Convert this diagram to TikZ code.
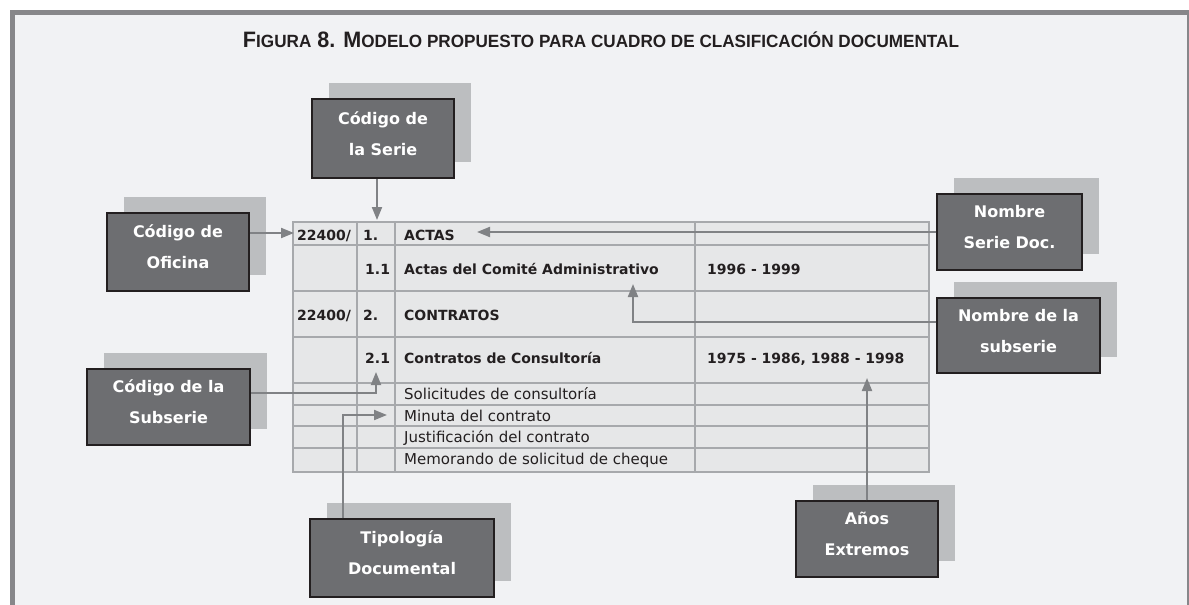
\documentclass[tikz,border=0pt]{standalone}
\usepackage{fontspec}
\usepackage{graphicx}
\setmainfont{DejaVu Sans}
\newfontfamily\titlefont{Liberation Sans}
\usetikzlibrary{arrows.meta,calc}
\definecolor{panel}{HTML}{F1F2F4}
\definecolor{framecol}{HTML}{87878A}
\definecolor{boxfill}{HTML}{6D6E71}
\definecolor{boxline}{HTML}{231F20}
\definecolor{shadowgray}{HTML}{BCBEC0}
\definecolor{tablefill}{HTML}{E6E7E8}
\definecolor{tableline}{HTML}{A7A9AC}
\definecolor{conncol}{HTML}{808285}
\definecolor{ink}{HTML}{231F20}
\newcommand\tsc[1]{{\fontsize{17.7}{20}\selectfont #1}}
\newcommand\lift{\rule[-10pt]{0pt}{10pt}}
\tikzset{
  labelbox/.style={draw=boxline, line width=1.5pt, fill=boxfill, inner sep=0pt,
    text=white, align=center, font=\bfseries\fontsize{16}{31}\selectfont,
    preaction={fill=shadowgray, draw=none, transform canvas={xshift=17pt,yshift=16pt}}},
  connector/.style={draw=conncol, line width=2pt, -{Triangle[length=13pt,width=10pt]}},
  cellb/.style={anchor=base west, inner sep=0pt, text=ink, font=\bfseries\fontsize{14}{16}\selectfont},
  cellr/.style={anchor=base west, inner sep=0pt, text=ink, font=\fontsize{15}{17}\selectfont},
  tline/.style={draw=tableline, line width=1.8pt}
}
\begin{document}
\begin{tikzpicture}[x=1pt,y=-1pt]
\useasboundingbox (0,0) rectangle (1189,605);
% frame and panel
\fill[white] (0,0) rectangle (1189,605);
\fill[framecol] (10,10) rectangle (1189,605);
\fill[panel] (15,15) rectangle (1187,605);
% title
\node[anchor=base, inner sep=0pt, text=ink] (title) at (601,47.7)
  {\resizebox{716pt}{\height}{\titlefont\bfseries\fontsize{22.3}{24}\selectfont F\tsc{IGURA} 8. M\tsc{ODELO PROPUESTO PARA CUADRO DE CLASIFICACIÓN DOCUMENTAL}}};
% table
\fill[tablefill] (293,222) rectangle (929,472);
\foreach \yy in {245,291,337,383,405,426,448} {\draw[tline] (293,\yy) -- (929,\yy);}
\foreach \xx in {357,395,695} {\draw[tline] (\xx,222) -- (\xx,472);}
\draw[tline] (293,222) rectangle (929,472);
% table text
\node[cellb] (c11) at (297,240) {22400/};
\node[cellb] (c12) at (363,240) {1.};
\node[cellb] (actas) at (404,240) {ACTAS};
\node[cellb] (c22) at (365,274) {1.1};
\node[cellb] (c23) at (404,274) {Actas del Comité Administrativo};
\node[cellb] (c24) at (707,274) {1996 - 1999};
\node[cellb] (c31) at (297,320) {22400/};
\node[cellb] (c32) at (363,320) {2.};
\node[cellb] (c33) at (404,320) {CONTRATOS};
\node[cellb] (c42) at (365,363) {2.1};
\node[cellb] (c43) at (404,363) {Contratos de Consultoría};
\node[cellb] (c44) at (707,363) {1975 - 1986, 1988 - 1998};
\node[cellr] (c53) at (404,399) {Solicitudes de consultoría};
\node[cellr] (c63) at (404,421) {Minuta del contrato};
\node[cellr] (c73) at (404,442) {Justificación del contrato};
\node[cellr] (c83) at (404,464) {Memorando de solicitud de cheque};
% boxes
\node[labelbox, minimum width=142pt, minimum height=79pt] (serie) at (383,138.5) {Código de\\la Serie\lift};
\node[labelbox, minimum width=142pt, minimum height=78pt] (oficina) at (178,252) {Código de\\Oficina\lift};
\node[labelbox, minimum width=145pt, minimum height=76pt] (nsd) at (1009.5,232) {Nombre\\Serie Doc.\lift};
\node[labelbox, minimum width=163pt, minimum height=75pt] (nsub) at (1018.5,335.5) {Nombre de la\\subserie\lift};
\node[labelbox, minimum width=163pt, minimum height=76pt] (csub) at (168.5,407) {Código de la\\Subserie\lift};
\node[labelbox, minimum width=184pt, minimum height=78pt] (tipo) at (402,558) {Tipología\\Documental\lift};
\node[labelbox, minimum width=142pt, minimum height=76pt] (anos) at (867,539) {Años\\Extremos\lift};
% arrow targets
\coordinate (tOf) at (294,233);
\coordinate (tSe) at (377,220);
\coordinate (tActas) at (477,232);
\coordinate (tSub) at (633,284);
\coordinate (tCs) at (376,372);
\coordinate (tTip) at (387,415);
\coordinate (tAn) at (867,378);
% connectors
\draw[connector] (oficina.east |- tOf) -- (tOf);
\draw[connector] (serie.south -| tSe) -- (tSe);
\draw[connector] (nsd.west) -- (tActas);
\draw[connector] ([yshift=13.5pt]nsub.west) -| (tSub);
\draw[connector] ([yshift=14pt]csub.east) -| (tCs);
\draw[connector] ([xshift=-59pt]tipo.north) |- (tTip);
\draw[connector] (anos.north) -- (tAn);
\end{tikzpicture}
\end{document}
